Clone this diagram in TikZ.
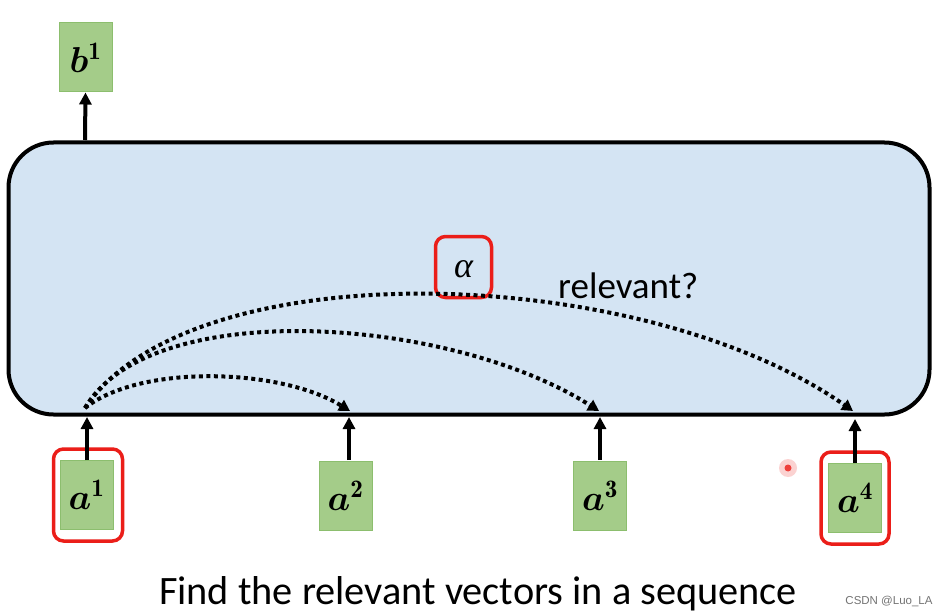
\RequirePackage{fix-cm}
\documentclass[tikz,border=0pt]{standalone}
\usepackage{amsmath,bm}
\usepackage{fontspec}
\newfontfamily\calfont{Carlito}
\newfontfamily\wmfont{Liberation Sans}
\newfontfamily\grkfont{Liberation Serif}
\usetikzlibrary{arrows.meta}
\definecolor{boxgreen}{RGB}{164,204,137}
\definecolor{boxedge}{RGB}{140,190,110}
\definecolor{panelblue}{RGB}{212,228,243}
\definecolor{hilite}{RGB}{235,30,25}
\tikzset{
  vec/.style={draw=boxedge, fill=boxgreen, line width=1pt, inner sep=0pt, minimum width=53pt, minimum height=69pt, font=\fontsize{36}{40}\selectfont},
  panel/.style={draw=black, line width=4pt, fill=panelblue, rounded corners=45pt},
  redbox/.style={draw=hilite, line width=3.5pt, rounded corners=10pt},
  up/.style={-{Triangle[length=12pt,width=12pt]}, line width=4pt},
  rel/.style={-{Triangle[length=11pt,width=12pt]}, line width=4pt, dash pattern=on 4pt off 3.5pt},
}
\begin{document}
\begin{tikzpicture}[x=1pt,y=-1pt]
\useasboundingbox (0,0) rectangle (942,615);
\fill[white] (0,0) rectangle (942,615);
% panel
\node[panel, minimum width=921pt, minimum height=272pt] (panel) at (469,278.5) {};
% output
\node[vec] (b1) at (85.5,57.5) {$\bm{b}^{\mathbf{1}}$};
\coordinate (b1src) at (85,140);
\draw[up] (b1src) -- (b1.south);
% inputs
\node[vec] (a1) at (86.5,495) {$\bm{a}^{\mathbf{1}}$};
\node[vec] (a2) at (345.5,495.5) {$\bm{a}^{\mathbf{2}}$};
\node[vec] (a3) at (600,495.5) {$\bm{a}^{\mathbf{3}}$};
\node[vec] (a4) at (855,498) {$\bm{a}^{\mathbf{4}}$};
\node[redbox, minimum width=69pt, minimum height=92pt] (r1) at (88,495) {};
\node[redbox, minimum width=68pt, minimum height=92pt] (r4) at (855,498) {};
% arrows into panel
\coordinate (p1) at (87,417);
\coordinate (p2) at (349,417);
\coordinate (p3) at (600,417);
\coordinate (p4) at (855,419);
\coordinate (s1) at (87,460);
\coordinate (s2) at (349,460);
\coordinate (s3) at (600,460);
\coordinate (s4) at (855,463);
\draw[up] (s1) -- (p1);
\draw[up] (s2) -- (p2);
\draw[up] (s3) -- (p3);
\draw[up] (s4) -- (p4);
% alpha
\node[redbox, minimum width=56pt, minimum height=61pt] (alpha) at (463.5,267) {};
\node[inner sep=0pt, anchor=base, font=\grkfont\itshape\fontsize{36}{40}\selectfont] (alphat) at (463.5,277) {α};
\node[font=\calfont\fontsize{37}{44}\selectfont, anchor=base west, inner sep=0pt] (relq) at (558,298) {relevant?};
% dotted relevance arcs
\coordinate (o) at (85,408);
\coordinate (t2) at (350,411);
\coordinate (t3) at (599,411);
\coordinate (t4) at (853,411);
\draw[rel] (o) .. controls (140,364) and (280,368) .. (t2);
\draw[rel] (o) .. controls (150,296) and (450,316) .. (t3);
\draw[rel] (o) .. controls (190,250) and (640,262) .. (t4);
% laser pointer dot
\node[circle, fill=hilite!20, minimum size=18pt, inner sep=0pt] (laser) at (788,468) {};
\node[circle, fill=hilite!85, minimum size=7pt, inner sep=0pt] (laserc) at (788,468) {};
% caption
\node[font=\calfont\fontsize{40.3}{46}\selectfont, anchor=base, inner sep=0pt] (cap) at (478,604) {Find the relevant vectors in a sequence};
\node[font=\wmfont\fontsize{11.5}{13}\selectfont, text=black!55, anchor=base, inner sep=0pt] (wm) at (889,604) {CSDN @Luo\_LA};
\end{tikzpicture}
\end{document}
